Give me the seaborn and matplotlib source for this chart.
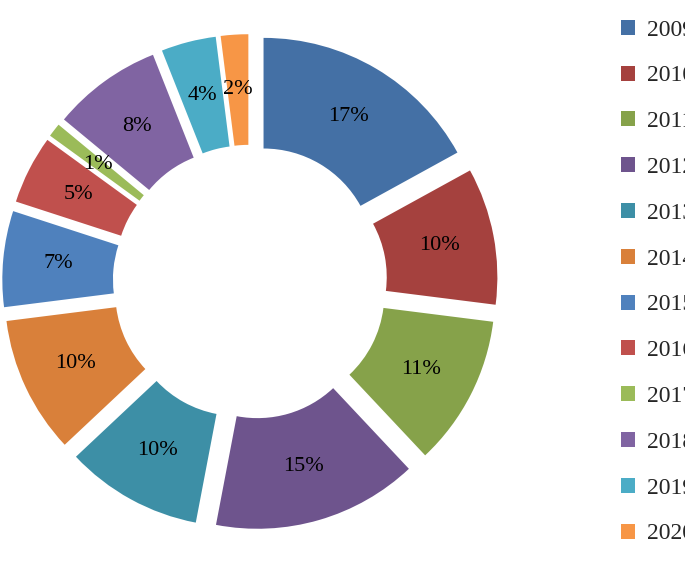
import matplotlib.pyplot as plt
import seaborn as sns
from matplotlib.patches import Patch

years = ['2009', '2010', '2011', '2012', '2013', '2014',
         '2015', '2016', '2017', '2018', '2019', '2020']
shares = [17, 10, 11, 15, 10, 10, 7, 5, 1, 8, 4, 2]
colors = ['#4470A5', '#A5413E', '#86A24A', '#6E548D', '#3D8FA6', '#D9803A',
          '#4F81BD', '#C0504D', '#9BBB59', '#8064A2', '#4BACC6', '#F79646']

sns.set_theme(style='white')
plt.rcParams['font.family'] = 'Liberation Serif'

fig = plt.figure(figsize=(6.85, 5.64), dpi=100)
ax = fig.add_axes([0.0, 0.0, 0.73, 1.0])
wedges, texts, autotexts = ax.pie(
    shares, colors=colors, startangle=90, counterclock=False,
    explode=[0.12] * len(shares), radius=1.0,
    wedgeprops=dict(width=0.5, edgecolor='white', linewidth=0),
    autopct='%d%%', pctdistance=0.75,
    textprops=dict(fontsize=16, color='black'))
ax.set_xlim(-1.13, 1.13)
ax.set_ylim(-1.12, 1.12)
ax.set_aspect('equal')
ax.axis('off')

handles = [Patch(facecolor=c, edgecolor='none') for c in colors]
fig.legend(handles, years, loc='center left', bbox_to_anchor=(0.875, 0.5),
           frameon=False, fontsize=17, handlelength=0.6, handleheight=0.6,
           handletextpad=0.5, labelspacing=1.05)

fig.savefig('out.png', dpi=100)
